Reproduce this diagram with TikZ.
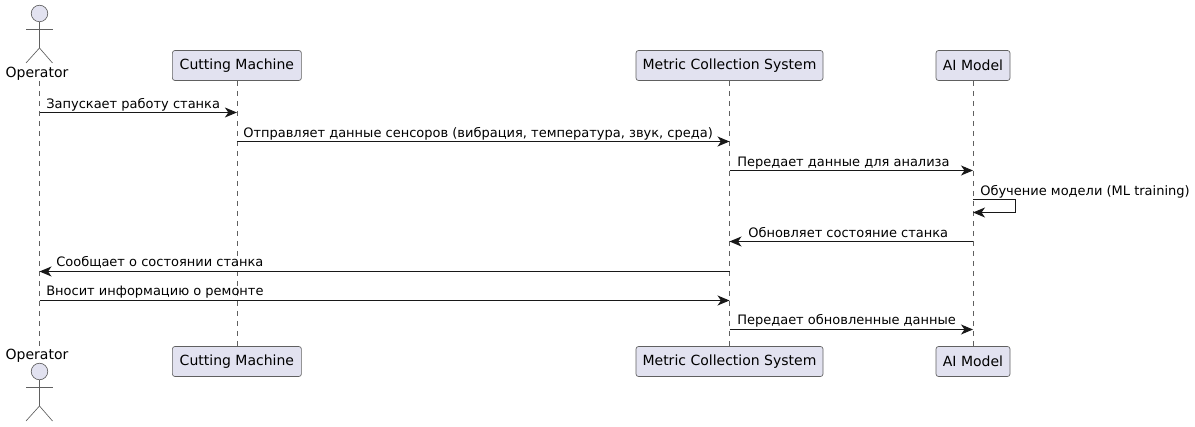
\documentclass[tikz,border=0pt]{standalone}
\usepackage{fontspec}
\setmainfont{DejaVu Sans}
\usetikzlibrary{arrows.meta}
\definecolor{partfill}{HTML}{E2E2F0}
\definecolor{partline}{HTML}{606060}
\definecolor{msgline}{HTML}{181818}
\tikzstyle{part} = [rectangle, rounded corners=1.9pt, minimum height=22.5pt, inner xsep=0pt, inner ysep=0pt, text centered, draw=partline, line width=0.5pt, fill=partfill, font=\fontsize{10.5pt}{12pt}\selectfont]
\tikzstyle{actorname} = [inner sep=0pt, font=\fontsize{10.5pt}{12pt}\selectfont]
\tikzstyle{head} = [circle, minimum size=12.4pt, inner sep=0pt, draw=partline, line width=0.5pt, fill=partfill]
\tikzstyle{limb} = [draw=partline, line width=0.5pt]
\tikzstyle{life} = [draw=partline, line width=0.5pt, dash pattern=on 3.75pt off 3.75pt]
\tikzstyle{arrow} = [draw=msgline, line width=0.75pt, -{Stealth[length=9pt, width=7.5pt, inset=2.6pt]}]
\tikzstyle{msg} = [inner sep=0pt, anchor=base west, font=\fontsize{9.75pt}{12pt}\selectfont]

\begin{document}
\begin{tikzpicture}[x=0.75pt, y=-0.75pt]
			\useasboundingbox (0,0) rectangle (1195,427);

			% top row
			\node (opname) [actorname] at (37,73.5) {Operator};
			\node (cutTop) [part, minimum width=96.75pt] at (236.9,65.5) {Cutting Machine};
			\node (metTop) [part, minimum width=140.25pt] at (729.5,65.5) {Metric Collection System};
			\node (aiTop) [part, minimum width=55.5pt] at (973,65.5) {AI Model};

			% bottom row
			\node (opnameB) [actorname] at (37,355.5) {Operator};
			\node (cutBot) [part, minimum width=96.75pt] at (236.9,361.5) {Cutting Machine};
			\node (metBot) [part, minimum width=140.25pt] at (729.5,361.5) {Metric Collection System};
			\node (aiBot) [part, minimum width=55.5pt] at (973,361.5) {AI Model};

			% actors
			\node (opHead) [head] at (39.5,13.5) {};
			\draw [limb] (opHead.south) -- (39.5,48) -- (26,63);
			\draw [limb] (39.5,48) -- (52.5,63);
			\draw [limb] (26,29) -- (52.5,29);
			\node (opHeadB) [head] at (39.5,371.5) {};
			\draw [limb] (opHeadB.south) -- (39.5,406) -- (26,421);
			\draw [limb] (39.5,406) -- (52.5,421);
			\draw [limb] (26,387) -- (52.5,387);

			% lifelines
			\coordinate (opT) at (39.5,81);
			\coordinate (opB) at (39.5,346);
			\draw [life] (opT) -- (opB);
			\draw [life] (cutTop) -- (cutBot);
			\draw [life] (metTop) -- (metBot);
			\draw [life] (aiTop) -- (aiBot);

			% messages
			\draw [arrow] (opT |- 0,112.5) -- (cutTop |- 0,112.5);
			\node (m1) [msg] at (46,109) {Запускает работу станка};
			\draw [arrow] (cutTop |- 0,141.5) -- (metTop |- 0,141.5);
			\node (m2) [msg] at (243,138) {Отправляет данные сенсоров (вибрация, температура, звук, среда)};
			\draw [arrow] (metTop |- 0,170.5) -- (aiTop |- 0,170.5);
			\node (m3) [msg] at (737,167) {Передает данные для анализа};
			\draw [arrow] (aiTop |- 0,199.5) -- ++(42.5,0) |- (aiTop |- 0,212.5);
			\node (m4) [msg] at (980,196) {Обучение модели (ML training)};
			\draw [arrow] (aiTop |- 0,241.5) -- (metTop |- 0,241.5);
			\node (m5) [msg] at (748,238) {Обновляет состояние станка};
			\draw [arrow] (metTop |- 0,271.5) -- (opT |- 0,271.5);
			\node (m6) [msg] at (56,267) {Сообщает о состоянии станка};
			\draw [arrow] (opT |- 0,300.5) -- (metTop |- 0,300.5);
			\node (m7) [msg] at (46,296) {Вносит информацию о ремонте};
			\draw [arrow] (metTop |- 0,329.5) -- (aiTop |- 0,329.5);
			\node (m8) [msg] at (737,325) {Передает обновленные данные};

		\end{tikzpicture}
\end{document}
